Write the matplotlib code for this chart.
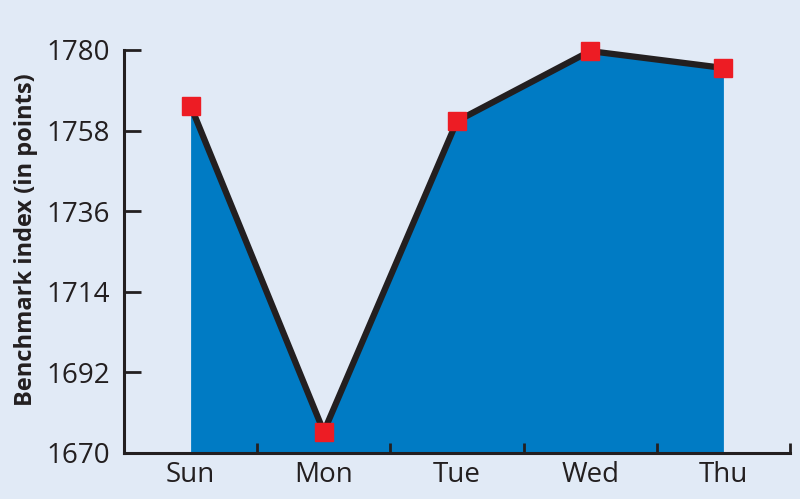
import numpy as np
import matplotlib
matplotlib.use("Agg")
import matplotlib.pyplot as plt

days = ["Sun", "Mon", "Tue", "Wed", "Thu"]
index_points = [1764.8, 1675.8, 1760.6, 1779.7, 1775.1]
y_ticks = [1670, 1692, 1714, 1736, 1758, 1780]

BG = "#e1eaf6"
FILL = "#007bc4"
LINE = "#231f20"
MARK = "#ed1c24"

plt.rcParams["font.family"] = ["Open Sans", "DejaVu Sans"]

fig = plt.figure(figsize=(8, 4.99), dpi=100, facecolor=BG)
ax = fig.add_axes([0.155, 0.0922, 0.8325, 0.8076])
ax.set_facecolor(BG)

x = np.arange(len(days))
ax.fill_between(x, index_points, 1670, color=FILL, linewidth=0, zorder=1)
ax.plot(x, index_points, color=LINE, linewidth=4.5, zorder=2,
        solid_joinstyle="miter", clip_on=False)
ax.plot(x, index_points, linestyle="none", marker="s", markersize=13,
        color=MARK, zorder=3, clip_on=False)

ax.set_xlim(-0.5, len(days) - 0.5)
ax.set_ylim(1670, 1780)
ax.set_yticks(y_ticks)
ax.set_yticklabels([str(v) for v in y_ticks], fontsize=20, color=LINE)

# category labels centred, tick marks on boundaries
ax.set_xticks(x + 0.5)
ax.set_xticklabels([])
ax.set_xticks(x, minor=True)
ax.set_xticklabels(days, minor=True, fontsize=20, color=LINE)
ax.tick_params(axis="x", which="major", direction="in", length=7,
               width=2, color=LINE)
ax.tick_params(axis="x", which="minor", length=0, pad=6)
ax.tick_params(axis="y", direction="in", length=12, width=2,
               color=LINE, pad=10)

for side in ["top", "right"]:
    ax.spines[side].set_visible(False)
for side in ["left", "bottom"]:
    ax.spines[side].set_linewidth(2.2)
    ax.spines[side].set_color(LINE)

ax.set_ylabel("Benchmark index (in points)", fontsize=17,
              fontweight="bold", color=LINE, labelpad=6)
ax.yaxis.label.set_y(0.53)

fig.savefig("out.png", dpi=100, facecolor=BG)
